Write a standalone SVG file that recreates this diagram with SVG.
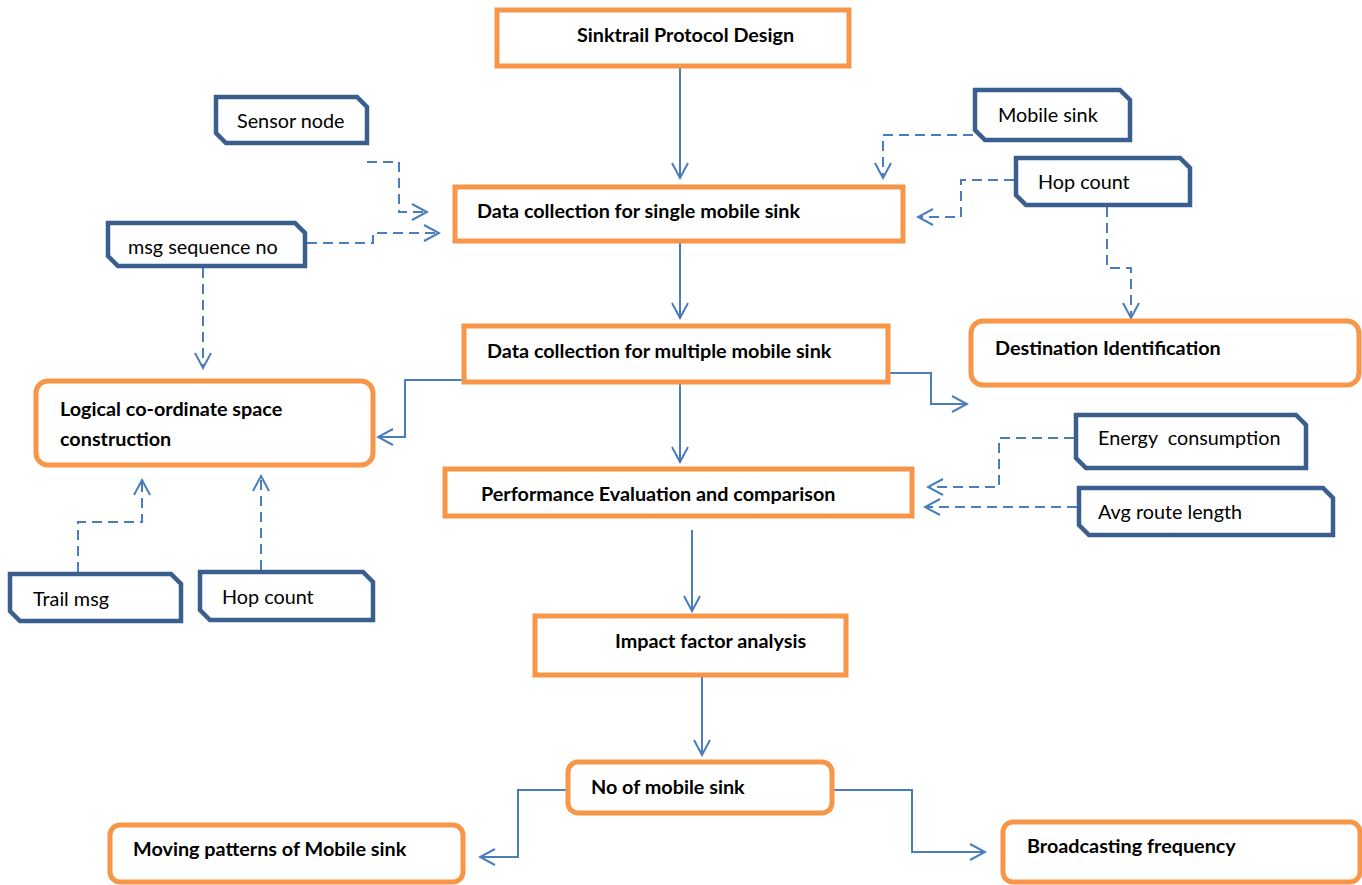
<svg xmlns="http://www.w3.org/2000/svg" width="1362" height="885" viewBox="0 0 1362 885">
<defs>
<style>
.ob{fill:#fff;stroke:#F79646;stroke-width:5}
.bb{fill:#fff;stroke:#3A5F8F;stroke-width:4.5;stroke-linejoin:miter}
.tb{font-family:Lato,"Liberation Sans",sans-serif;font-weight:bold;font-size:19.8px;fill:#000}
.tr{font-family:Lato,"Liberation Sans",sans-serif;font-size:19.8px;fill:#000;white-space:pre}
.c{fill:none;stroke:#4A7EBB;stroke-width:2;marker-end:url(#ah)}
.d{stroke-dasharray:10,6}
</style>
<marker id="ah" viewBox="0 0 20 20" refX="18" refY="10" markerWidth="20" markerHeight="20" markerUnits="userSpaceOnUse" orient="auto">
<path d="M3,2 L18,10 L3,18" fill="none" stroke="#4A7EBB" stroke-width="2" stroke-dasharray="none"/>
</marker>
</defs>
<rect width="1362" height="885" fill="#fff"/>
<g id="connectors">
<path class="c" d="M680,67 V178"/>
<path class="c" d="M680,242 V318"/>
<path class="c" d="M680,384 V462"/>
<path class="c" d="M692,530 V611"/>
<path class="c" d="M702,677 V755"/>
<path class="c" d="M462,380 H405 V437 H378"/>
<path class="c" d="M890,373 H931 V404 H967"/>
<path class="c" d="M566,790 H518 V857 H480"/>
<path class="c" d="M834,790 H912 V852 H985"/>
<path class="c d" d="M367,162 H399 V212 H427"/>
<path class="c d" d="M307,243 H373 V233 H439"/>
<path class="c d" d="M203,268 V368"/>
<path class="c d" d="M973,135 H883 V178"/>
<path class="c d" d="M1014,180 H961 V217 H918"/>
<path class="c d" d="M1107,207 V268 H1131 V318"/>
<path class="c d" d="M78,572 V522 H142 V480"/>
<path class="c d" d="M261,570 V476"/>
<path class="c d" d="M1074,438 H999 V487 H928"/>
<path class="c d" d="M1077,507 H925"/>
</g>
<g id="n-sinktrail"><rect class="ob" x="497" y="10" width="352" height="56"/><text class="tb" x="577" y="42">Sinktrail Protocol Design</text></g>
<g id="n-single"><rect class="ob" x="455" y="187" width="448" height="54"/><text class="tb" x="477" y="218">Data collection for single mobile sink</text></g>
<g id="n-multiple"><rect class="ob" x="464" y="326" width="424" height="56"/><text class="tb" x="487" y="358">Data collection for multiple mobile sink</text></g>
<g id="n-logical"><rect class="ob" x="36" y="381" width="337" height="84" rx="12"/><text class="tb" x="60" y="416">Logical co-ordinate space</text><text class="tb" x="60" y="446">construction</text></g>
<g id="n-destination"><rect class="ob" x="971" y="321" width="388" height="64" rx="12"/><text class="tb" x="995" y="355">Destination Identification</text></g>
<g id="n-performance"><rect class="ob" x="445" y="469" width="467" height="47"/><text class="tb" x="481" y="501">Performance Evaluation and comparison</text></g>
<g id="n-impact"><rect class="ob" x="535" y="616" width="311" height="59"/><text class="tb" x="615" y="648">Impact factor analysis</text></g>
<g id="n-nomobile"><rect class="ob" x="568" y="762" width="264" height="51" rx="10"/><text class="tb" x="591" y="794">No of mobile sink</text></g>
<g id="n-moving"><rect class="ob" x="110" y="825" width="353" height="57" rx="10"/><text class="tb" x="133" y="856">Moving patterns of Mobile sink</text></g>
<g id="n-broadcast"><rect class="ob" x="1003" y="822" width="357" height="60" rx="10"/><text class="tb" x="1027" y="853">Broadcasting frequency</text></g>
<g id="n-sensor"><path class="bb" d="M216,97 H357 L367,107 V143 H226 L216,133 Z"/><text class="tr" x="237" y="128">Sensor node</text></g>
<g id="n-msgseq"><path class="bb" d="M108,223 H295 L305,233 V266 H118 L108,256 Z"/><text class="tr" x="128" y="254">msg sequence no</text></g>
<g id="n-mobilesink"><path class="bb" d="M975,90 H1120 L1130,100 V140 H985 L975,130 Z"/><text class="tr" x="998" y="122">Mobile sink</text></g>
<g id="n-hopcount-r"><path class="bb" d="M1016,158 H1180 L1190,168 V205 H1026 L1016,195 Z"/><text class="tr" x="1038" y="189">Hop count</text></g>
<g id="n-trail"><path class="bb" d="M10,574 H171 L181,584 V621 H20 L10,611 Z"/><text class="tr" x="33" y="606">Trail msg</text></g>
<g id="n-hopcount-l"><path class="bb" d="M200,572 H363 L373,582 V620 H210 L200,610 Z"/><text class="tr" x="222" y="604">Hop count</text></g>
<g id="n-energy"><path class="bb" d="M1076,415 H1296 L1306,425 V468 H1086 L1076,458 Z"/><text class="tr" x="1098" y="445" xml:space="preserve">Energy  consumption</text></g>
<g id="n-avg"><path class="bb" d="M1079,488 H1323 L1333,498 V535 H1089 L1079,525 Z"/><text class="tr" x="1098" y="519">Avg route length</text></g>
</svg>
